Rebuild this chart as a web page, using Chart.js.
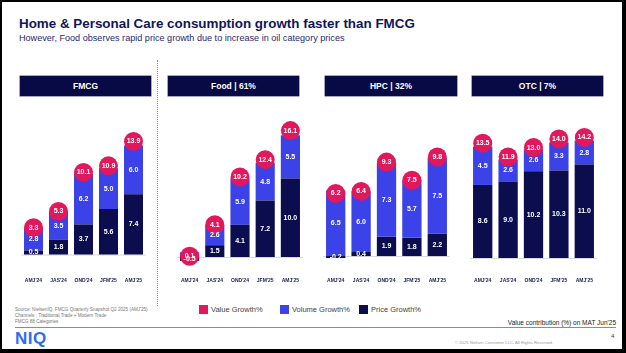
<!DOCTYPE html>
<html>
<head>
<meta charset="utf-8">
<script src="https://cdn.jsdelivr.net/npm/chart.js@4"></script>
<style>
  body { margin: 0; width: 626px; height: 353px; background: #fff; font-family: "Liberation Sans", Arial, sans-serif; position: relative; overflow: hidden; }
  .frame { position: absolute; left: 0; top: 0; width: 620px; height: 347px; border: 2px solid #000; border-right-width: 4px; border-bottom-width: 4px; }
  .title { position: absolute; left: 19px; top: 16px; font-size: 13.4px; font-weight: bold; color: #10165a; white-space: nowrap; }
  .subtitle { position: absolute; left: 19px; top: 33px; font-size: 9.1px; color: #1f2a6e; white-space: nowrap; }
  .head { position: absolute; top: 76px; height: 20px; line-height: 20px; background: #080a45; color: #fff; font-weight: bold; font-size: 8.5px; text-align: center; box-shadow: 0 0 0 0.5px #4a4f8a; }
  .panel { position: absolute; top: 100px; }
  .divider { position: absolute; left: 157px; top: 60px; height: 246px; border-left: 1px dotted #9a9a9a; }
  .legend { position: absolute; top: 305px; font-size: 7.5px; color: #444; white-space: nowrap; }
  .legend span.box { display: inline-block; width: 9px; height: 9px; vertical-align: -2px; margin-right: 3px; }
  .src { position: absolute; left: 15px; top: 307px; font-size: 4.6px; line-height: 5.8px; color: #777; }
  .contrib { position: absolute; right: 10px; top: 319px; font-size: 6.5px; color: #222; }
  .rule { position: absolute; left: 15px; top: 327px; width: 601px; height: 0; border-top: 1.5px solid #8c8c8c; }
  .niq { position: absolute; left: 15px; top: 329px; font-size: 17px; font-weight: bold; color: #2d6cf5; letter-spacing: 0.5px; }
  .copy { position: absolute; left: 455px; top: 340px; font-size: 4.2px; color: #9a9a9a; }
  .page { position: absolute; left: 611px; top: 333px; font-size: 6px; color: #444; }
</style>
</head>
<body>
<div class="frame"></div>
<div class="title">Home &amp; Personal Care consumption growth faster than FMCG</div>
<div class="subtitle">However, Food observes rapid price growth due to increase in oil category prices</div>

<div class="head" style="left:20px;width:131px;">FMCG</div>
<div class="head" style="left:168px;width:131px;">Food | 61%</div>
<div class="head" style="left:325px;width:132px;">HPC | 32%</div>
<div class="head" style="left:472px;width:131px;">OTC | 7%</div>

<div class="divider"></div>

<div class="panel" style="left:21px;"><canvas id="fmcg" width="125" height="184"></canvas></div>
<div class="panel" style="left:177px;"><canvas id="food" width="126" height="184"></canvas></div>
<div class="panel" style="left:323px;"><canvas id="hpc" width="127" height="184"></canvas></div>
<div class="panel" style="left:470px;"><canvas id="otc" width="127" height="184"></canvas></div>

<div class="legend" style="left:199px;"><span class="box" style="background:#e2185c"></span>Value Growth%</div>
<div class="legend" style="left:280px;"><span class="box" style="background:#3a42e8"></span>Volume Growth%</div>
<div class="legend" style="left:359px;"><span class="box" style="background:#0b0d4e"></span>Price Growth%</div>

<div class="src">Source: NielsenIQ, FMCG Quarterly Snapshot Q2 2025 (AMJ'25)<br>Channels : Traditional Trade + Modern Trade<br>FMCG 88 Categories</div>
<div class="contrib">Value contribution (%) on MAT Jun'25</div>
<div class="rule"></div>
<div class="niq">NIQ</div>
<div class="copy">© 2025 Nielsen Consumer LLC. All Rights Reserved.</div>
<div class="page">4</div>

<script>
var quarters = ["AMJ'24", "JAS'24", "OND'24", "JFM'25", "AMJ'25"];

var fmcgPrice  = [0.5, 1.8, 3.7, 5.6, 7.4];
var fmcgVolume = [2.8, 3.5, 6.2, 5.0, 6.0];
var fmcgValue  = [3.3, 5.3, 10.1, 10.9, 13.9];

var foodPrice  = [-0.5, 1.5, 4.1, 7.2, 10.0];
var foodVolume = [0.6, 2.6, 5.9, 4.8, 5.5];
var foodValue  = [0.1, 4.1, 10.2, 12.4, 16.1];

var hpcPrice  = [-0.2, 0.4, 1.9, 1.8, 2.2];
var hpcVolume = [6.5, 6.0, 7.3, 5.7, 7.5];
var hpcValue  = [6.2, 6.4, 9.3, 7.5, 9.8];

var otcPrice  = [8.6, 9.0, 10.2, 10.3, 11.0];
var otcVolume = [4.5, 2.6, 2.6, 3.3, 2.8];
var otcValue  = [13.5, 11.9, 13.0, 14.0, 14.2];

var NAVY = '#0b0d4e', BLUE = '#3a42e8', PINK = '#e2185c';

// light zero line under the bars
var zeroLine = {
  id: 'zeroLine',
  beforeDatasetsDraw: function(chart) {
    var ctx = chart.ctx, a = chart.chartArea;
    var y = chart.scales.y.getPixelForValue(0);
    ctx.save();
    ctx.strokeStyle = '#d8d8d8';
    ctx.lineWidth = 1;
    ctx.beginPath();
    ctx.moveTo(a.left - 1, y + 0.5);
    ctx.lineTo(a.right + 3, y + 0.5);
    ctx.stroke();
    ctx.restore();
  }
};

// white numbers inside segments and circles
var segLabels = {
  id: 'segLabels',
  afterDatasetsDraw: function(chart) {
    var ctx = chart.ctx;
    ctx.save();
    ctx.font = 'bold 7px "Liberation Sans", Arial';
    ctx.fillStyle = '#ffffff';
    ctx.textAlign = 'center';
    ctx.textBaseline = 'middle';
    chart.data.datasets.forEach(function(ds, i) {
      if (ds.type === 'line') return;
      chart.getDatasetMeta(i).data.forEach(function(el, j) {
        var v = ds.data[j];
        if (ds.label === 'Volume Growth%' && v < 1) return;
        ctx.fillText(v.toFixed(1), el.x, (el.y + el.base) / 2);
      });
    });
    chart.data.datasets.forEach(function(ds, i) {
      if (ds.type !== 'line') return;
      chart.getDatasetMeta(i).data.forEach(function(el, j) {
        ctx.fillText(ds.data[j].toFixed(1), el.x, el.y);
      });
    });
    ctx.restore();
  }
};

function makeChart(id, price, volume, value, yMin, yMax) {
  var ctx = document.getElementById(id).getContext('2d');
  return new Chart(ctx, {
    type: 'bar',
    data: {
      labels: quarters,
      datasets: [
        {
          type: 'line',
          label: 'Value Growth%',
          data: value,
          stack: 'value',
          showLine: false,
          clip: false,
          pointRadius: 9.5,
          pointBackgroundColor: PINK,
          pointBorderColor: PINK,
          pointBorderWidth: 0,
          order: 0
        },
        {
          label: 'Price Growth%',
          data: price,
          backgroundColor: NAVY,
          stack: 'bars',
          order: 1
        },
        {
          label: 'Volume Growth%',
          data: volume,
          backgroundColor: BLUE,
          stack: 'bars',
          order: 1
        }
      ]
    },
    options: {
      responsive: false,
      animation: false,
      layout: { padding: 0, autoPadding: false },
      datasets: { bar: { barPercentage: 0.76, categoryPercentage: 1 } },
      scales: {
        x: {
          stacked: true,
          grid: { display: false, drawTicks: false },
          border: { display: false },
          ticks: {
            autoSkip: false,
            maxRotation: 0,
            padding: 16,
            color: '#1a1d4e',
            font: { size: 5, weight: 'bold', family: '"Liberation Sans", Arial' }
          },
          afterFit: function(scale) {
            scale.height = 22;
            scale.paddingLeft = 0;
            scale.paddingRight = 0;
          }
        },
        y: {
          stacked: true,
          display: false,
          min: yMin,
          max: yMax
        }
      },
      plugins: {
        legend: { display: false },
        tooltip: { enabled: false }
      }
    },
    plugins: [zeroLine, segLabels]
  });
}

makeChart('fmcg', fmcgPrice, fmcgVolume, fmcgValue, -0.92, 19.0);
makeChart('food', foodPrice, foodVolume, foodValue, -0.64, 20.0);
makeChart('hpc', hpcPrice, hpcVolume, hpcValue, -0.59, 15.45);
makeChart('otc', otcPrice, otcVolume, otcValue, -0.47, 18.6);
</script>
</body>
</html>
